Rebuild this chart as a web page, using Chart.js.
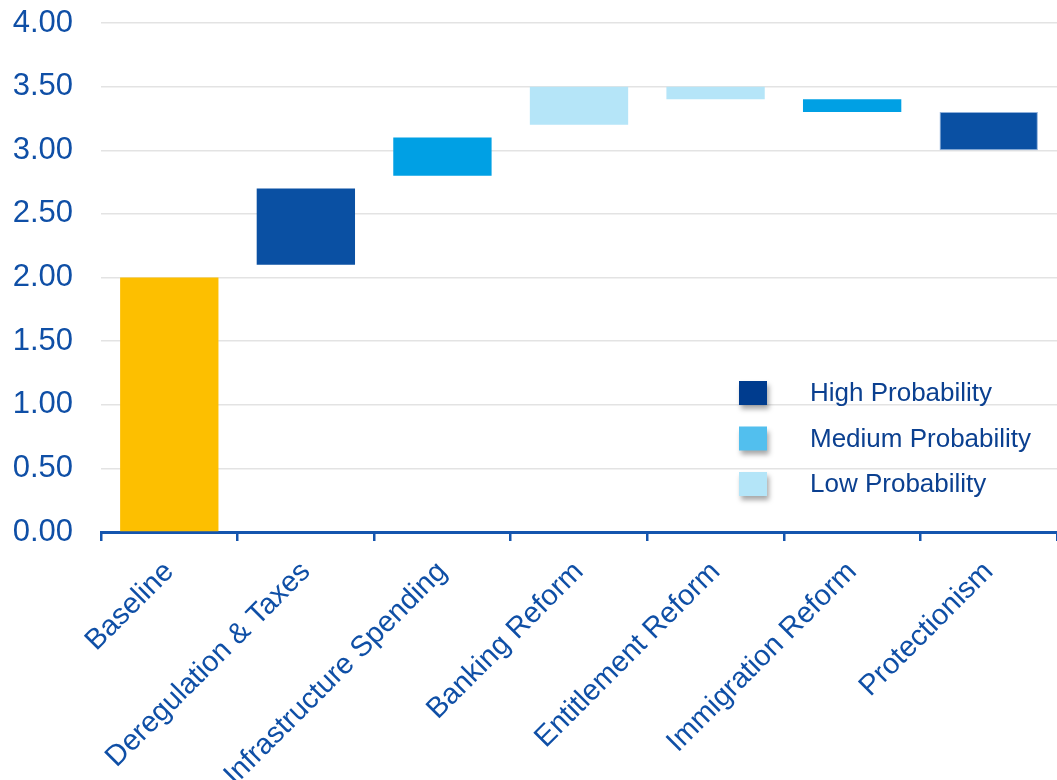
<!DOCTYPE html>
<html>
<head>
<meta charset="utf-8">
<script src="https://cdn.jsdelivr.net/npm/chart.js@4"></script>
<style>
  html, body { margin: 0; padding: 0; background: #fff; overflow: hidden; }
  #wrap { width: 1057px; height: 780px; position: relative; }
</style>
</head>
<body>
<div id="wrap"><canvas id="grafico"></canvas></div>
<script>
// categorias e valores (inicio / fim de cada barra flutuante)
const categorias = ['Baseline', 'Deregulation & Taxes', 'Infrastructure Spending', 'Banking Reform', 'Entitlement Reform', 'Immigration Reform', 'Protectionism'];
const inicio = [0, 2.1, 2.8, 3.2, 3.4, 3.3, 3.0];
const fim = [2.0, 2.7, 3.1, 3.5, 3.5, 3.4, 3.3];
const probabilidade = ['base', 'high', 'medium', 'low', 'low', 'medium', 'high'];
const legendaNomes = ['High Probability', 'Medium Probability', 'Low Probability'];

const coresBarra = { base: '#FDBF00', high: '#0A50A3', medium: '#00A0E4', low: '#B5E5F8' };
const coresLegenda = ['#003C8E', '#52BFEE', '#B4E5F8'];
const azulTexto = '#0F4FA6';

// legenda desenhada dentro da area do grafico, com sombra nos quadrados
const legendaPlugin = {
  id: 'legendaProb',
  afterDraw(chart) {
    const ctx = chart.ctx;
    ctx.save();
    for (let i = 0; i < legendaNomes.length; i++) {
      const y = 393 + i * 45.5;
      ctx.save();
      ctx.shadowColor = 'rgba(0,0,0,0.35)';
      ctx.shadowBlur = 5;
      ctx.shadowOffsetX = 2;
      ctx.shadowOffsetY = 4;
      ctx.fillStyle = coresLegenda[i];
      ctx.fillRect(739, y - 12, 28, 24);
      ctx.restore();
      ctx.fillStyle = '#0B4090';
      ctx.font = '26px "Liberation Sans", Arial, sans-serif';
      ctx.textBaseline = 'middle';
      ctx.textAlign = 'left';
      ctx.fillText(legendaNomes[i], 810, y + 1);
    }
    ctx.restore();
  }
};

const ctx = document.getElementById('grafico').getContext('2d');

new Chart(ctx, {
  type: 'bar',
  data: {
    labels: categorias,
    datasets: [{
      data: inicio.map((v, i) => [v, fim[i]]),
      backgroundColor: probabilidade.map(p => coresBarra[p]),
      borderColor: probabilidade.map((p, i) => i === 6 ? '#8FB0DA' : coresBarra[p]),
      borderWidth: probabilidade.map((p, i) => i === 6 ? 1 : 0),
      borderSkipped: false,
      categoryPercentage: 1,
      barPercentage: 0.72
    }]
  },
  options: {
    responsive: true,
    maintainAspectRatio: false,
    animation: false,
    layout: { padding: 0 },
    plugins: {
      legend: { display: false },
      tooltip: { enabled: false }
    },
    scales: {
      x: {
        offset: true,
        grid: {
          offset: true,
          drawOnChartArea: false,
          drawTicks: true,
          tickLength: 9,
          color: '#1455AE',
          lineWidth: 2.5
        },
        border: { display: true, color: '#1455AE', width: 3 },
        ticks: {
          color: azulTexto,
          font: { family: '"Liberation Sans", Arial, sans-serif', size: 29 },
          maxRotation: 45,
          minRotation: 45,
          padding: 14,
          autoSkip: false
        },
        afterFit(scale) { scale.height = 248; }
      },
      y: {
        min: 0,
        max: 4,
        grid: { color: '#E3E3E3', lineWidth: 1.5, drawTicks: false },
        border: { display: false },
        ticks: {
          stepSize: 0.5,
          color: azulTexto,
          padding: 28,
          font: { family: '"Liberation Sans", Arial, sans-serif', size: 31 },
          callback: v => v.toFixed(2)
        },
        afterFit(scale) {
          scale.width = 101;
          scale.paddingTop = 23;
          scale.paddingBottom = 0;
        }
      }
    }
  },
  plugins: [legendaPlugin]
});
</script>
</body>
</html>
